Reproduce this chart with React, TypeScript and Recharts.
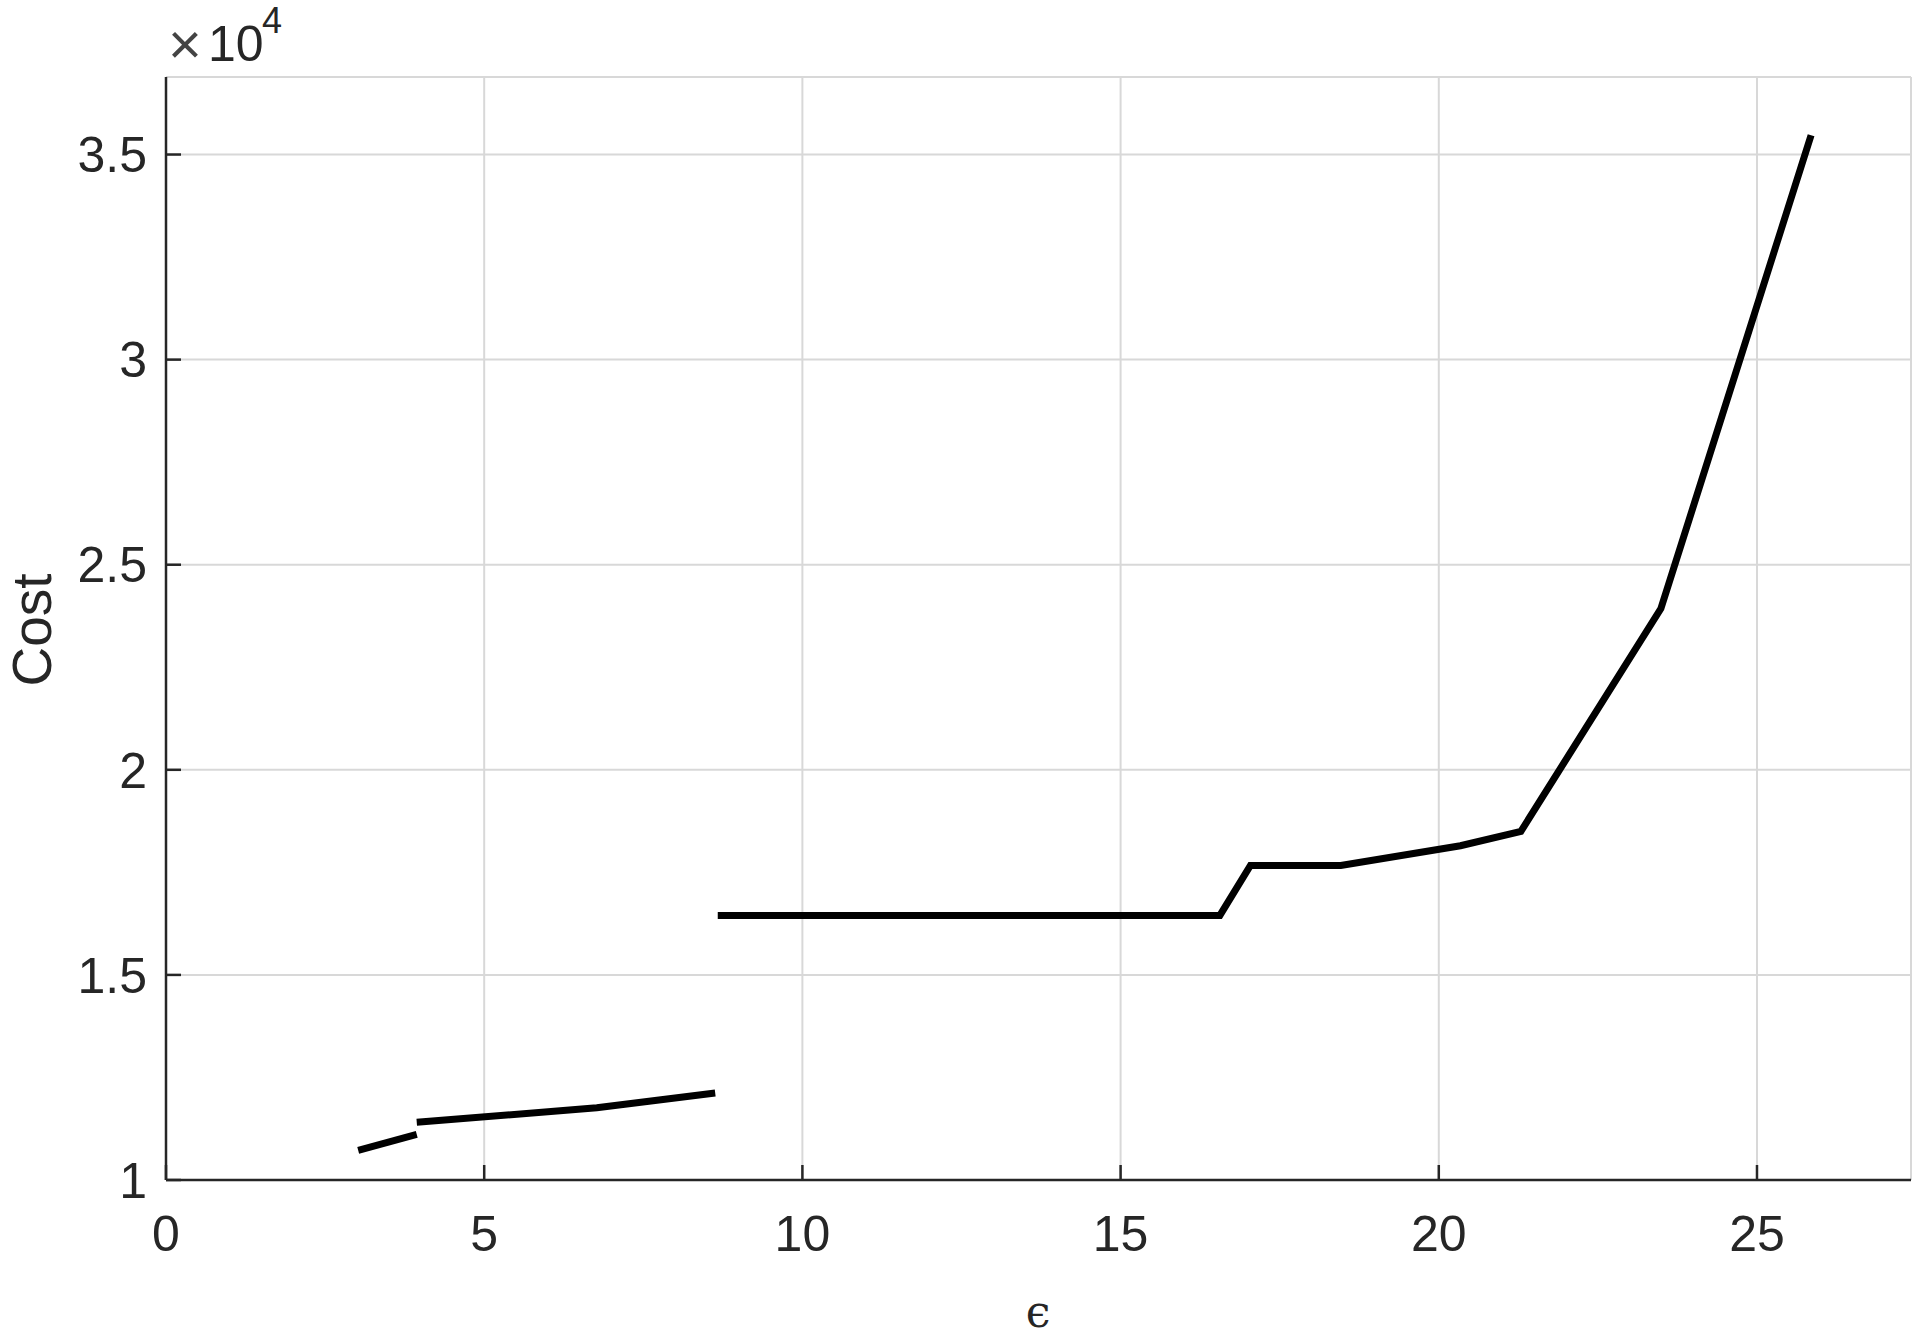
import { CartesianGrid, Line, LineChart, XAxis, YAxis } from "recharts";

// three separate pieces of the cost curve (x = epsilon, y = cost)
const segmentAEps = [3.02, 3.94];
const segmentACost = [10720, 11110];

const segmentBEps = [3.94, 6.77, 8.63];
const segmentBCost = [11410, 11760, 12120];

const segmentCEps = [8.67, 16.56, 17.04, 18.46, 20.34, 21.29, 23.49, 25.85];
const segmentCCost = [16450, 16450, 17670, 17670, 18150, 18500, 23930, 35470];

const xTicks = [0, 5, 10, 15, 20, 25];
const yTicks = [10000, 15000, 20000, 25000, 30000, 35000];

const toPoints = (xs: number[], ys: number[]) =>
  xs.map((x, i) => ({ eps: x, cost: ys[i] }));

const segments = [
  toPoints(segmentAEps, segmentACost),
  toPoints(segmentBEps, segmentBCost),
  toPoints(segmentCEps, segmentCCost),
];

const TEXT = "#262626";
const FONT = "'Liberation Sans', Arial, sans-serif";

export default function App() {
  return (
    <div style={{ position: "absolute", left: 0, top: 0, width: 1920, height: 1339, background: "#fff" }}>
      <LineChart
        width={1920}
        height={1339}
        margin={{ top: 77, right: 9, bottom: 0, left: 0 }}
      >
        <CartesianGrid stroke="#d8d8d8" strokeWidth={2} />
        <XAxis
          type="number"
          dataKey="eps"
          domain={[0, 27.42]}
          ticks={xTicks}
          allowDataOverflow
          height={159}
          tickSize={-15}
          tickMargin={50}
          stroke={TEXT}
          strokeWidth={2.5}
          tick={{ fontSize: 50, fill: TEXT, fontFamily: FONT }}
        />
        <YAxis
          type="number"
          domain={[10000, 36890]}
          ticks={yTicks}
          allowDataOverflow
          width={166}
          tickSize={-15}
          tickMargin={34}
          stroke={TEXT}
          strokeWidth={2.5}
          tickFormatter={(v: number) => String(v / 10000)}
          tick={{ fontSize: 50, fill: TEXT, fontFamily: FONT }}
        />
        {segments.map((seg, i) => (
          <Line
            key={i}
            data={seg}
            dataKey="cost"
            type="linear"
            stroke="#000"
            strokeWidth={7}
            dot={false}
            activeDot={false}
            isAnimationActive={false}
          />
        ))}
      </LineChart>
      <svg
        width={1920}
        height={1339}
        style={{ position: "absolute", left: 0, top: 0, pointerEvents: "none" }}
      >
        <text x={168} y={64} fontSize={58} fill="#444" fontFamily={FONT}>
          ×
        </text>
        <text x={208} y={61} fontSize={50} fill={TEXT} fontFamily={FONT}>
          10
        </text>
        <text x={262} y={33} fontSize={36} fill={TEXT} fontFamily={FONT}>
          4
        </text>
        <text
          x={51}
          y={630}
          fontSize={55}
          fill={TEXT}
          fontFamily={FONT}
          textAnchor="middle"
          transform="rotate(-90 51 630)"
        >
          Cost
        </text>
        <text
          x={1038}
          y={1327}
          fontSize={44}
          fill={TEXT}
          fontFamily="'DejaVu Serif', serif"
          textAnchor="middle"
        >
          ϵ
        </text>
      </svg>
    </div>
  );
}
